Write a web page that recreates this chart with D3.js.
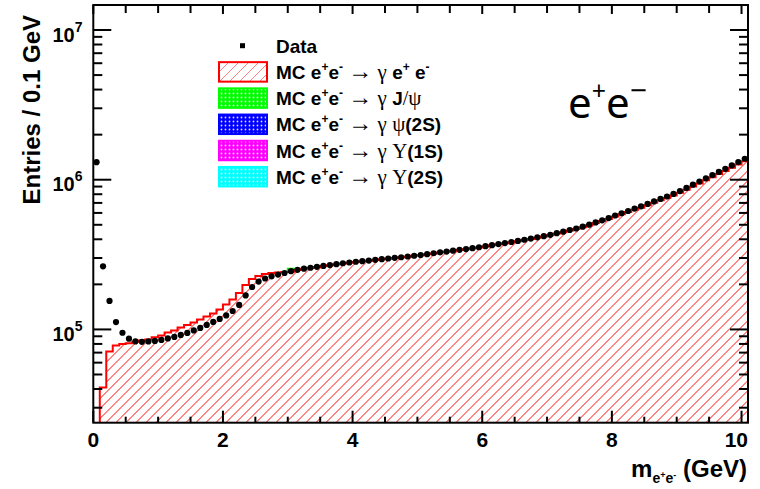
<!DOCTYPE html>
<html><head><meta charset="utf-8">
<script src="https://cdn.jsdelivr.net/npm/d3@7"></script>
<style>body{margin:0;background:#fff} text{white-space:pre}</style>
</head><body>
<svg id="c" width="760" height="489"></svg>
<script>
// ---------- data ----------
const binWidth = 0.1;               // GeV
const massMin = 0, massMax = 10.1;  // axis range (GeV)
// Data entries per 0.1 GeV bin, bins 0.0-0.1 ... 10.0-10.1
const dataCounts = [
 1310000, 264000, 155000, 112000, 95000, 86700, 83200, 82600, 83200, 83800,
 85100, 87100, 89100, 91900, 94800, 98500, 102300, 107200, 112200, 117500,
 124000, 132800, 145700, 168600, 192000, 208900, 218800, 226300, 232600, 238100,
 245000, 250000, 254700, 258200, 261800, 265500, 269200, 272900, 276700, 279900,
 283100, 285800, 288400, 291700, 294400, 297800, 300600, 303400, 306900, 310500,
 314100, 318400, 322800, 327300, 331100, 335700, 340400, 344300, 349100, 354000,
 359700, 365600, 371500, 377600, 383700, 389900, 397200, 404600, 412100, 419800,
 428500, 439500, 449800, 461300, 472100, 485300, 501200, 518800, 535800, 554600,
 576800, 597000, 618000, 641200, 663700, 688600, 716100, 744700, 772700, 803500,
 839500, 881000, 926800, 972800, 1021000, 1074000, 1127000, 1183000, 1245000, 1312000,
 1380000
];
// MC e+e- -> gamma e+e- per bin (same binning)
const mcEE = [
 0, 41000, 71300, 78200, 80000, 80700, 82600, 84500, 85800, 88500,
 91200, 95500, 98500, 103100, 107200, 111300, 116600, 122100, 127900, 135900,
 146800, 158500, 175100, 198000, 217100, 227400, 234400, 238100, 239900, 241700,
 243000, 249000, 254000, 257500, 261000, 265000, 268500, 272000, 276000, 279000,
 282500, 285000, 288000, 291000, 294000, 297000, 300000, 303000, 306000, 310000,
 313500, 318000, 322000, 326500, 330500, 335000, 339500, 343500, 348000, 353000,
 358500, 364500, 370000, 376000, 382000, 388000, 395000, 402500, 410000, 417500,
 426000, 436500, 446500, 457500, 468000, 481000, 496000, 513000, 529500, 547500,
 568500, 588000, 608000, 630000, 651000, 675000, 701000, 728000, 755000, 784000,
 818000, 857000, 900000, 944000, 990000, 1040000, 1090000, 1143000, 1201000, 1264000,
 1327000
];
// MC e+e- -> gamma J/psi (stacked on top), bin index and content
const jpsiBins = [30];
const jpsiCounts = [11000];

const xMajorTicks = [0, 2, 4, 6, 8, 10];
const xMinorStep = 0.5;
const yDecades = [5, 6, 7];
const yMinorMultipliers = [2, 3, 4, 5, 6, 7, 8, 9];

const legendNames = ["Data", "e\u207Ae\u207B", "J/\u03C8", "\u03C8(2S)", "\u03A5(1S)", "\u03A5(2S)"];
const legendColors = ["#000000", "#ff0000", "#00ff00", "#0000ff", "#ff00ff", "#00ffff"];

// ---------- layout ----------
const L = 93.3, R = 748, T = 5, B = 422.7;
const SANS = "'Liberation Sans', Arial, Helvetica, sans-serif";
const SERIF = "'Liberation Serif', 'Times New Roman', serif";
const HATCH = "#ff8585";

const svg = d3.select("#c");
const x = d3.scaleLinear().domain([massMin, massMax]).range([L, R]);
const y = d3.scaleLog().domain([Math.pow(10, 4.377), Math.pow(10, 7.167)]).range([B, T]);

const defs = svg.append("defs");
defs.append("clipPath").attr("id", "plotclip").append("rect")
  .attr("x", L).attr("y", T).attr("width", R - L).attr("height", B - T);

legendColors.slice(2).forEach((c, i) => {
  const p = defs.append("pattern").attr("id", "dots" + i)
    .attr("patternUnits", "userSpaceOnUse").attr("width", 4).attr("height", 4);
  p.append("rect").attr("width", 4).attr("height", 4).attr("fill", c);
  p.append("circle").attr("cx", 1.5).attr("cy", 1.5).attr("r", 0.9).attr("fill", "#ffffff").attr("opacity", 0.85);
});

// draw 45deg hatch lines inside a box
function hatchLines(g, x0, y0, x1, y1, step) {
  const h = y1 - y0;
  for (let c = x0 - h; c < x1 + step; c += step) {
    g.append("line").attr("x1", c).attr("y1", y1).attr("x2", c + h).attr("y2", y0)
      .style("stroke", HATCH).style("stroke-width", 1).attr("shape-rendering", "crispEdges");
  }
}

// ---------- histogram ----------
const plot = svg.append("g").attr("clip-path", "url(#plotclip)");
const bins = dataCounts.map((d, i) => ({ lo: massMin + i * binWidth, hi: massMin + (i + 1) * binWidth, data: d, mc: mcEE[i] }));

const firstMc = bins.findIndex(b => b.mc > 0);
const pts = [[x(bins[firstMc].lo), B]];
bins.slice(firstMc).forEach(b => { pts.push([x(b.lo), y(b.mc)]); pts.push([x(b.hi), y(b.mc)]); });
const areaPts = pts.concat([[pts[pts.length - 1][0], B]]);
const line = d3.line();
defs.append("clipPath").attr("id", "mcclip").append("path").attr("d", line(areaPts) + "Z");
const hg = plot.append("g").attr("clip-path", "url(#mcclip)");
hatchLines(hg, L, T, R, B, 10);

// J/psi stacked
jpsiBins.forEach((bi, k) => {
  const b = bins[bi];
  const top = y(b.mc + jpsiCounts[k]), bot = y(b.mc);
  plot.append("rect").attr("x", x(b.lo)).attr("y", top).attr("width", x(b.hi) - x(b.lo)).attr("height", bot - top)
    .attr("fill", "url(#dots0)");
  plot.append("path").attr("d", line([[x(b.lo), bot], [x(b.lo), top], [x(b.hi), top], [x(b.hi), bot]]))
    .attr("fill", "none").attr("stroke", "#00ff00").attr("stroke-width", 2);
});

plot.append("path").attr("d", line(pts)).attr("fill", "none").attr("stroke", "#ff0000").attr("stroke-width", 2);

// data points
plot.selectAll("circle.d").data(bins).join("circle").attr("class", "d")
  .attr("cx", b => x((b.lo + b.hi) / 2)).attr("cy", b => y(b.data)).attr("r", 3.1).attr("fill", "#000");

// ---------- axes / frame ----------
const ax = svg.append("g").attr("stroke", "#000").attr("stroke-width", 2);
const xMinor = d3.range(massMin, 10.0001, xMinorStep).filter(v => !xMajorTicks.some(m => Math.abs(m - v) < 1e-6));
xMajorTicks.forEach(v => {
  ax.append("line").attr("x1", x(v)).attr("x2", x(v)).attr("y1", B).attr("y2", B - 12);
  ax.append("line").attr("x1", x(v)).attr("x2", x(v)).attr("y1", T).attr("y2", T + 9);
});
xMinor.forEach(v => {
  ax.append("line").attr("x1", x(v)).attr("x2", x(v)).attr("y1", B).attr("y2", B - 6);
  ax.append("line").attr("x1", x(v)).attr("x2", x(v)).attr("y1", T).attr("y2", T + 8);
});
const yDom = y.domain();
yDecades.forEach(e => {
  const v = Math.pow(10, e);
  ax.append("line").attr("x1", L).attr("x2", L + 18).attr("y1", y(v)).attr("y2", y(v));
  ax.append("line").attr("x1", R).attr("x2", R - 18).attr("y1", y(v)).attr("y2", y(v));
});
[4, 5, 6].forEach(e => yMinorMultipliers.forEach(m => {
  const v = m * Math.pow(10, e);
  if (v < yDom[0] || v > yDom[1]) return;
  ax.append("line").attr("x1", L).attr("x2", L + 9).attr("y1", y(v)).attr("y2", y(v));
  ax.append("line").attr("x1", R).attr("x2", R - 9).attr("y1", y(v)).attr("y2", y(v));
}));
svg.append("rect").attr("x", L).attr("y", T).attr("width", R - L).attr("height", B - T)
  .attr("fill", "none").attr("stroke", "#000").attr("stroke-width", 2);

// rich text helper: segs = [text, shift, size, family, weight]
function rich(sel, segs) {
  let cur = 0;
  segs.forEach(s => {
    const [t, sh, fs, fam, fw] = s;
    const ts = sel.append("tspan").text(t).attr("dy", sh - cur).attr("font-size", fs);
    if (fam) ts.attr("font-family", fam);
    if (fw) ts.attr("font-weight", fw);
    cur = sh;
  });
  return sel;
}

// tick labels
xMajorTicks.forEach(v => {
  const last = v === xMajorTicks[xMajorTicks.length - 1];
  svg.append("text").attr("x", last ? R : x(v)).attr("y", B + 24)
    .attr("text-anchor", last ? "end" : "middle").attr("font-family", SANS).attr("font-weight", "bold")
    .attr("font-size", 21).attr("fill", "#000").text(v);
});
yDecades.forEach(e => {
  const t = svg.append("text").attr("x", 82.5).attr("y", y(Math.pow(10, e)) + 11.5)
    .attr("text-anchor", "end").attr("font-family", SANS).attr("font-weight", "bold").attr("fill", "#000");
  rich(t, [["10", 0, 20], [String(e), -10, 14]]);
});

// axis titles
svg.append("text").attr("transform", "translate(40,15) rotate(-90)").attr("text-anchor", "end")
  .attr("font-family", SANS).attr("font-weight", "bold").attr("font-size", 24).attr("fill", "#000")
  .text("Entries / 0.1 GeV");
const xt = svg.append("text").attr("x", 747).attr("y", 477).attr("text-anchor", "end")
  .attr("font-family", SANS).attr("font-weight", "bold").attr("fill", "#000");
rich(xt, [["m", 0, 24], ["e", 6, 14], ["+", 1, 9], ["e", 6, 14], ["-", 1, 9], [" (GeV)", 0, 24]]);

// big label
const bl = svg.append("text").attr("x", 568).attr("y", 118).attr("font-family", "'Noto Sans', 'Open Sans', sans-serif")
  .attr("fill", "#000");
rich(bl, [["e", 0, 42], ["+", -18, 25], ["e", 0, 42], ["\u2212", -17, 30]]);

// ---------- legend ----------
const lg = svg.append("g");
const rowY0 = 45.7, rowDy = 26.2, boxX = 219, boxW = 48, boxH = 19.5, textX = 276;
legendNames.forEach((name, i) => {
  const cy = rowY0 + i * rowDy;
  if (i === 0) {
    lg.append("rect").attr("x", 240).attr("y", cy - 2.5).attr("width", 5).attr("height", 5).attr("fill", "#000");
  } else {
    if (i === 1) {
      const cid = "legclip";
      defs.append("clipPath").attr("id", cid).append("rect")
        .attr("x", boxX).attr("y", cy - boxH / 2).attr("width", boxW).attr("height", boxH);
      hatchLines(lg.append("g").attr("clip-path", "url(#" + cid + ")"), boxX, cy - boxH / 2, boxX + boxW, cy + boxH / 2, 10);
    }
    lg.append("rect").attr("x", boxX).attr("y", cy - boxH / 2).attr("width", boxW).attr("height", boxH)
      .attr("fill", i === 1 ? "none" : "url(#dots" + (i - 2) + ")")
      .attr("stroke", legendColors[i]).attr("stroke-width", 2);
  }
  const t = lg.append("text").attr("x", textX).attr("y", cy + 7).attr("font-family", SANS)
    .attr("font-weight", "bold").attr("fill", "#000");
  if (i === 0) { rich(t, [["Data", 0, 19]]); return; }
  const head = [["MC e", 0, 19], ["+", -8, 12], ["e", 0, 19], ["-", -8, 12], [" ", 0, 19],
    ["\u2192", 0, 24, SERIF, "normal"], [" ", 0, 19], ["\u03B3", 0, 21, SERIF, "normal"], [" ", 0, 19]];
  let tail;
  if (i === 1) tail = [["e", 0, 19], ["+", -8, 12], [" e", 0, 19], ["-", -8, 12]];
  else if (i === 2) tail = [["J", 0, 19], ["/", 0, 20, SERIF, "normal"], ["\u03C8", 0, 21, SERIF, "normal"]];
  else if (i === 3) tail = [["\u03C8", 0, 21, SERIF, "normal"], ["(2S)", 0, 19]];
  else if (i === 4) tail = [["\u03A5", 0, 21, SERIF, "normal"], ["(1S)", 0, 19]];
  else tail = [["\u03A5", 0, 21, SERIF, "normal"], ["(2S)", 0, 19]];
  rich(t, head.concat(tail));
});
</script>
</body></html>
